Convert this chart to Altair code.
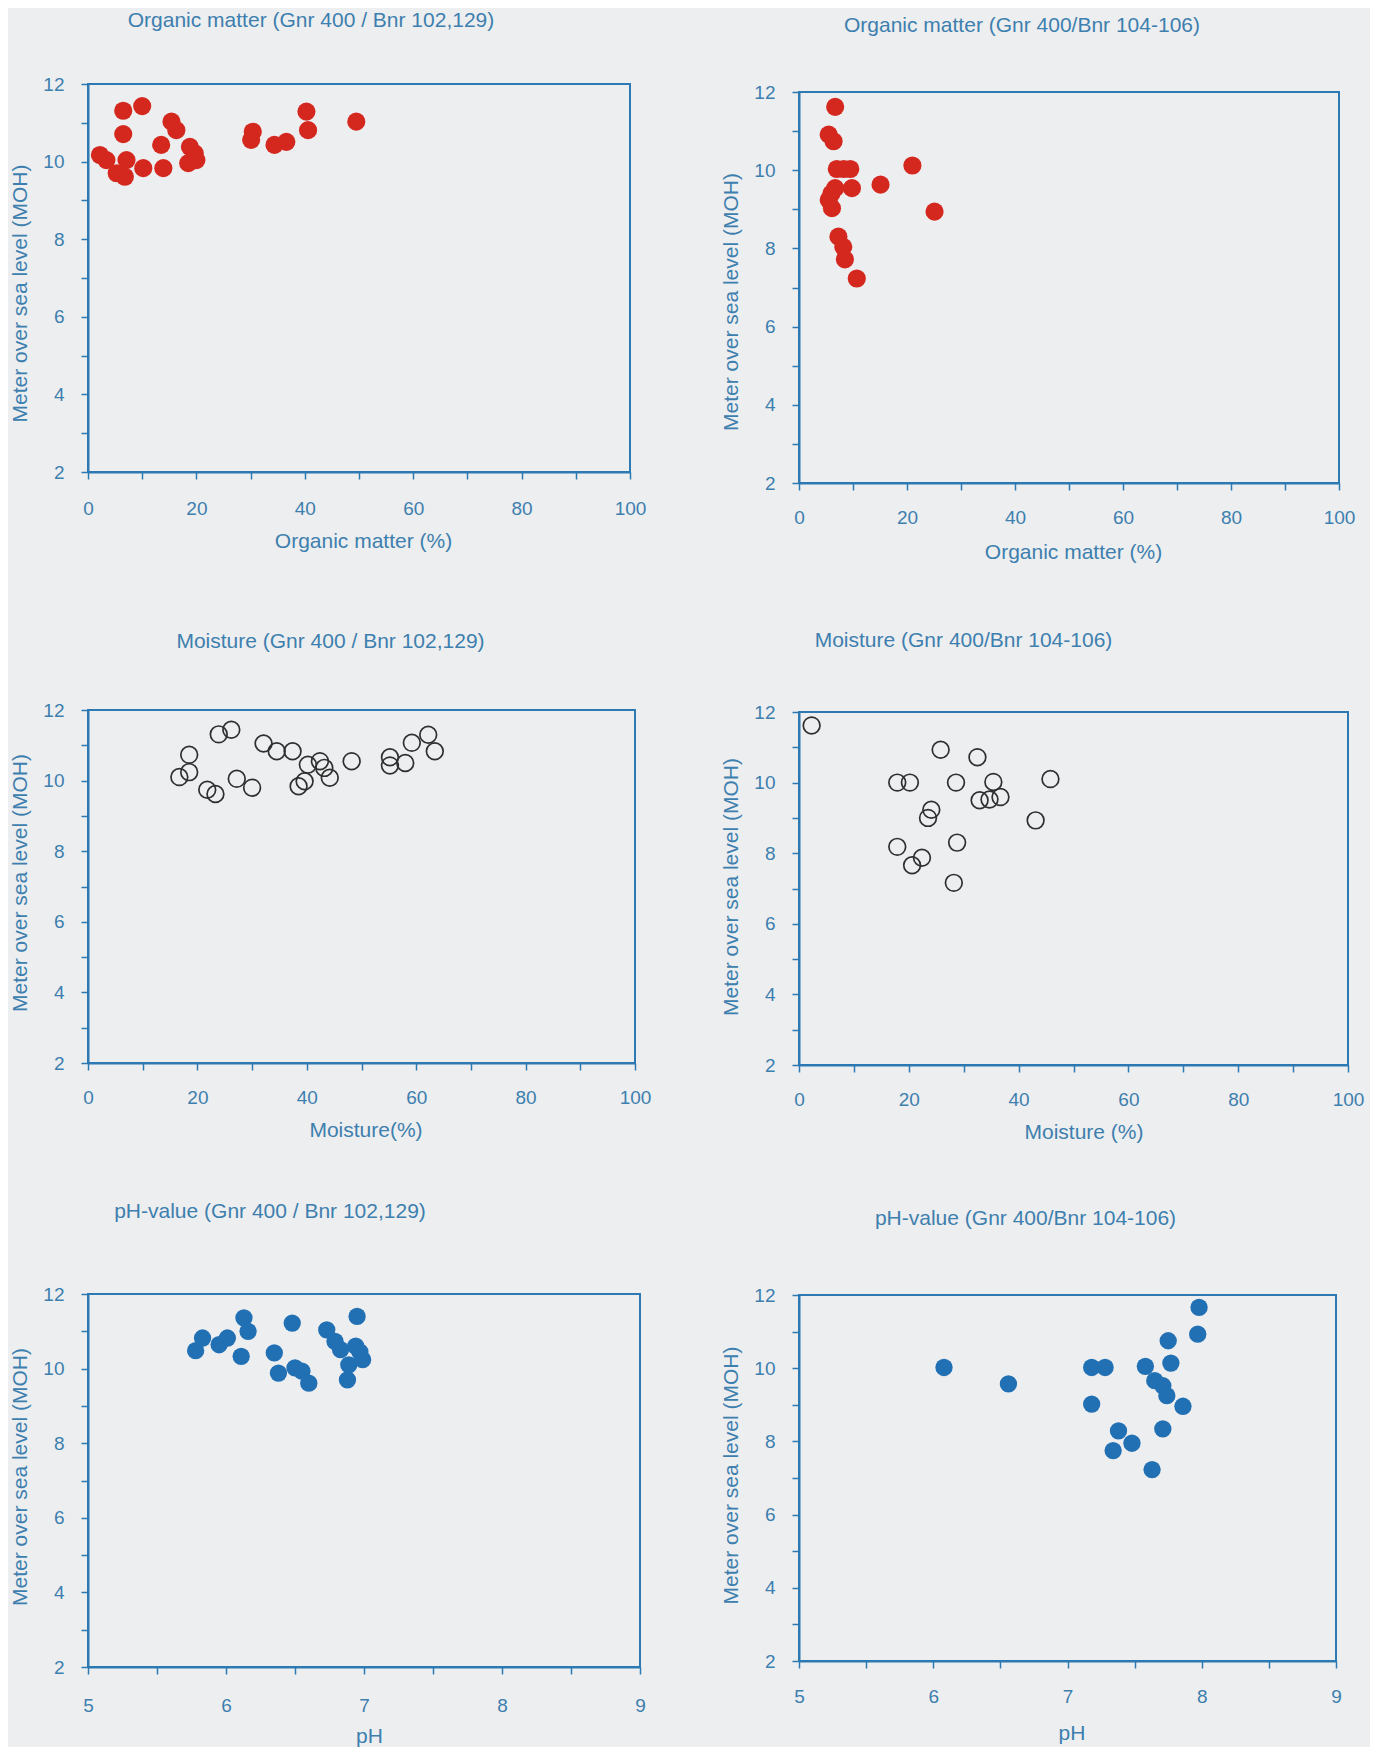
import altair as alt
import pandas as pd

# ---------------- data ----------------
# Organic matter, Gnr 400 / Bnr 102,129
om1_x = [2.2, 3.4, 5.3, 6.8, 7.1, 10.2, 13.9, 13.5, 15.4, 16.3, 18.8, 19.7, 18.5, 20.0,
         6.5, 10.0, 6.5, 30.4, 30.1, 34.4, 36.6, 40.3, 40.6, 49.5]
om1_y = [10.17, 10.04, 9.70, 9.61, 10.04, 9.83, 9.83, 10.43, 11.03, 10.81, 10.38, 10.21, 9.96, 10.04,
         11.31, 11.43, 10.71, 10.77, 10.56, 10.43, 10.51, 11.29, 10.81, 11.03]
# Organic matter, Gnr 400 / Bnr 104-106
om2_x = [6.7, 5.5, 6.4, 7.0, 8.3, 9.5, 6.7, 9.8, 5.5, 6.1, 7.3, 8.2, 8.5, 10.7, 15.1, 21.0, 25.1, 6.0]
om2_y = [11.62, 10.91, 10.74, 10.03, 10.03, 10.03, 9.54, 9.54, 9.24, 9.03, 8.30, 8.04, 7.72, 7.23,
         9.63, 10.12, 8.94, 9.40]
# Moisture, Gnr 400 / Bnr 102,129
mo1_x = [23.9, 26.2, 18.5, 18.5, 16.7, 21.8, 23.3, 27.2, 30.0, 32.1, 34.5, 37.4, 40.2, 42.4, 43.2,
         44.2, 39.6, 38.5, 48.2, 55.2, 55.2, 58.0, 59.2, 62.2, 63.4]
mo1_y = [11.31, 11.44, 10.73, 10.24, 10.10, 9.74, 9.62, 10.05, 9.80, 11.05, 10.83, 10.83, 10.45, 10.55,
         10.36, 10.08, 9.98, 9.84, 10.55, 10.66, 10.43, 10.50, 11.07, 11.30, 10.83]
# Moisture, Gnr 400 / Bnr 104-106
mo2_x = [2.3, 25.8, 32.5, 17.9, 20.2, 28.6, 35.4, 45.8, 32.9, 34.7, 36.7, 24.1, 23.5, 43.1, 28.8,
         17.9, 22.4, 20.6, 28.2]
mo2_y = [11.62, 10.93, 10.72, 10.0, 10.0, 10.0, 10.02, 10.10, 9.50, 9.52, 9.59, 9.23, 9.0, 8.93, 8.30,
         8.18, 7.87, 7.66, 7.16]
# pH, Gnr 400 / Bnr 102,129
ph1_x = [5.78, 5.83, 5.95, 6.01, 6.13, 6.16, 6.11, 6.48, 6.35, 6.38, 6.50, 6.55, 6.60, 6.95, 6.73,
         6.79, 6.83, 6.94, 6.99, 6.89, 6.88, 6.97]
ph1_y = [10.48, 10.82, 10.64, 10.82, 11.36, 11.0, 10.33, 11.22, 10.42, 9.88, 10.02, 9.93, 9.61, 11.40,
         11.04, 10.73, 10.51, 10.60, 10.24, 10.10, 9.70, 10.45]
# pH, Gnr 400 / Bnr 104-106
ph2_x = [6.08, 6.56, 7.18, 7.28, 7.18, 7.58, 7.65, 7.71, 7.74, 7.86, 7.75, 7.77, 7.98, 7.97, 7.71,
         7.38, 7.48, 7.34, 7.63]
ph2_y = [10.02, 9.57, 10.02, 10.02, 9.02, 10.05, 9.66, 9.52, 9.25, 8.96, 10.75, 10.14, 11.66, 10.93,
         8.34, 8.29, 7.95, 7.75, 7.23]

# axis ticks
pct_ticks = [0, 10, 20, 30, 40, 50, 60, 70, 80, 90, 100]
ph_ticks = [5, 5.5, 6, 6.5, 7, 7.5, 8, 8.5, 9]
y_ticks = [2, 3, 4, 5, 6, 7, 8, 9, 10, 11, 12]

Y_TITLE = "Meter over sea level (MOH)"
FONT = "Liberation Sans"
TXT = "#3d7fae"
LINE = "#2d79b2"
BG = "#edeef0"


def panel(xs, ys, kind, title, t_dx, t_off, xtitle, xt_dx, xt_y, yt_x, yt_dy,
          xdom, xticks, xlab_expr, xlab_pad, w, h):
    df = pd.DataFrame({"x": xs, "y": ys})
    base = alt.Chart(df)
    if kind == "red":
        mk = base.mark_point(shape="circle", filled=True, size=330, color="#d4281f", opacity=1)
    elif kind == "blue":
        mk = base.mark_point(shape="circle", filled=True, size=300, color="#2270b4", opacity=1)
    else:
        mk = base.mark_point(shape="circle", filled=False, size=280, color="#2f2f2f",
                             strokeWidth=1.7, opacity=1)
    xaxis = alt.Axis(values=xticks, labelExpr=xlab_expr, format=".0f", title=xtitle,
                     grid=False, tickSize=7, tickColor=LINE, tickWidth=1.5,
                     domainColor=LINE, domainWidth=2, labelPadding=xlab_pad,
                     labelBaseline="middle", labelFlush=False, labelOverlap=False,
                     labelFont=FONT, labelFontSize=19, labelColor=TXT,
                     titleFont=FONT, titleFontSize=21, titleFontWeight="normal", titleColor=TXT,
                     titleBaseline="middle", titleX=w / 2 + xt_dx, titleY=xt_y)
    yaxis = alt.Axis(values=y_ticks, labelExpr="datum.value % 2 == 0 ? datum.label : ''",
                     format=".0f", title=Y_TITLE, grid=False, tickSize=7, tickColor=LINE,
                     tickWidth=1.5, domainColor=LINE, domainWidth=2, labelPadding=17,
                     labelFlush=False, labelOverlap=False,
                     labelFont=FONT, labelFontSize=19, labelColor=TXT,
                     titleFont=FONT, titleFontSize=21, titleFontWeight="normal", titleColor=TXT,
                     titleBaseline="middle", titleX=yt_x, titleY=h / 2 + yt_dy)
    tparams = alt.TitleParams(text=title, font=FONT, fontSize=21, fontWeight="normal",
                              color=TXT, anchor="middle", frame="group", dx=t_dx,
                              offset=t_off, baseline="alphabetic")
    ch = mk.encode(
        x=alt.X("x:Q", scale=alt.Scale(domain=xdom, nice=False, zero=False), axis=xaxis),
        y=alt.Y("y:Q", scale=alt.Scale(domain=[2, 12], nice=False, zero=False), axis=yaxis),
    ).properties(width=w, height=h, title=tparams)
    return ch


def spacer(hh):
    return alt.Chart(pd.DataFrame({"a": [0]})).mark_rule(opacity=0).encode(
        x=alt.value(0), y=alt.value(0), y2=alt.value(hh)
    ).properties(width=1, height=hh,
                 view=alt.ViewBackground(strokeOpacity=0, fillOpacity=0))


PCT = "datum.value % 20 == 0 ? datum.label : ''"
PHX = "datum.value % 1 == 0 ? datum.label : ''"

p1 = panel(om1_x, om1_y, "red", "Organic matter (Gnr 400 / Bnr 102,129)", -48, 27,
           "Organic matter  (%)", 4, 69, -68, 15, [0, 100], pct_ticks, PCT, 29, 542, 388)
p2 = panel(om2_x, om2_y, "red", "Organic matter (Gnr 400/Bnr 104-106)", -47, 30,
           "Organic matter  (%)", 4, 69, -68, 14, [0, 100], pct_ticks, PCT, 27, 540, 391)
p3 = panel(mo1_x, mo1_y, "open", "Moisture (Gnr 400 / Bnr 102,129)", -31, 32,
           "Moisture(%)", 4, 67, -68, -4, [0, 100], pct_ticks, PCT, 27, 547, 353)
p4 = panel(mo2_x, mo2_y, "open", "Moisture (Gnr 400/Bnr 104-106)", -110, 35,
           "Moisture (%)", 10, 67, -68, -2, [0, 100], pct_ticks, PCT, 27, 549, 353)
p5 = panel(ph1_x, ph1_y, "blue", "pH-value (Gnr 400 / Bnr 102,129)", -94, 46,
           "pH", 5, 69, -68, -4, [5, 9], ph_ticks, PHX, 31, 552, 373)
p6 = panel(ph2_x, ph2_y, "blue", "pH-value (Gnr 400/Bnr 104-106)", -42, 40,
           "pH", 4, 72, -68, -3, [5, 9], ph_ticks, PHX, 28, 537, 366)

left = alt.vconcat(spacer(1), p1, spacer(78), p3, spacer(59), p5, spacing=0)
right = alt.vconcat(spacer(6), p2, spacer(66), p4, spacer(64), p6, spacing=0)

chart = alt.hconcat(left, right, spacing=67).properties(
    background=BG,
    padding={"left": 0, "top": 0, "right": 5, "bottom": 0},
).configure_view(stroke=LINE, strokeWidth=2, fill=BG)

chart.save("out.html", embed_options={"renderer": "svg", "actions": False})
